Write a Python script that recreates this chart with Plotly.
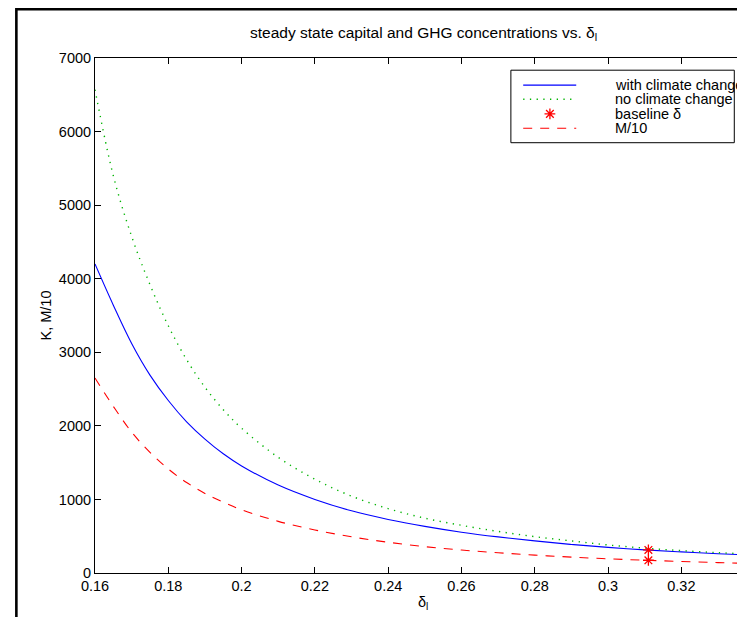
import plotly.graph_objects as go

# ---- data ----
delta = [0.16, 0.165, 0.17, 0.175, 0.18, 0.185, 0.19, 0.195, 0.20, 0.21, 0.22, 0.23,
         0.24, 0.25, 0.26, 0.27, 0.28, 0.29, 0.30, 0.31, 0.32, 0.33, 0.3386]
k_climate = [4200, 3640, 3120, 2690, 2345, 2055, 1820, 1620, 1455, 1195, 1000, 845,
             728, 634, 555, 491, 436, 388, 348, 315, 287, 262, 243]
k_noclimate = [6570, 5400, 4575, 3920, 3360, 2900, 2525, 2220, 1968, 1572, 1275, 1045,
               875, 745, 648, 565, 494, 436, 381, 338, 304, 276, 259]
m_over10 = [2650, 2265, 1915, 1640, 1413, 1230, 1082, 963, 860, 702, 585, 492,
            418, 358, 312, 275, 243, 216, 193, 174, 157, 141, 130]
baseline_delta = [0.311, 0.311]
baseline_vals = [313, 173]

series_names = ["with climate change", "no climate change", "baseline δ", "M/10"]
x_ticks = [0.16, 0.18, 0.20, 0.22, 0.24, 0.26, 0.28, 0.30, 0.32]
x_ticktext = ["0.16", "0.18", "0.2", "0.22", "0.24", "0.26", "0.28", "0.3", "0.32"]
y_ticks = [0, 1000, 2000, 3000, 4000, 5000, 6000, 7000]
x_range = [0.16, 0.339]
y_range = [0, 7000]

# ---- styling / layout (pixels of the 745x617 page) ----
FONT = "Liberation Sans, Arial, Helvetica, sans-serif"
FS = 14.5
W, H = 745, 617
L, R, T, B = 87, 742.7, 49.5, 565   # plot-area edges in pixels
PW, PH = R - L, B - T


def px(xp):
    return (xp - L) / PW


def py(yp):
    return (B - yp) / PH


BLUE = "#0000ff"
GREEN = "#00b400"
RED = "#ff0000"
blue_line = dict(color=BLUE, width=1.1)
green_line = dict(color=GREEN, width=1.4, dash="1.3px,5.4px")
red_line = dict(color=RED, width=1.1, dash="9px,8px")
star = dict(symbol="asterisk-open", color=RED, size=9, line=dict(color=RED, width=1.3))

fig = go.Figure()
fig.add_trace(go.Scatter(x=delta, y=k_climate, mode="lines", name=series_names[0],
                         line=dict(**blue_line, shape="spline")))
fig.add_trace(go.Scatter(x=delta, y=k_noclimate, mode="lines", name=series_names[1],
                         line=dict(**green_line, shape="spline")))
fig.add_trace(go.Scatter(x=baseline_delta, y=baseline_vals, mode="markers", name=series_names[2],
                         marker=star, cliponaxis=False))
fig.add_trace(go.Scatter(x=delta, y=m_over10, mode="lines", name=series_names[3],
                         line=dict(**red_line, shape="spline")))

# legend key for the star (on a hidden overlay axis spanning the plot area)
leg_rows = [76.7, 90.8, 105.4, 119.8]
fig.add_trace(go.Scatter(x=[px(541.7)], y=[py(leg_rows[2])], xaxis="x2", yaxis="y2",
                         mode="markers", showlegend=False, hoverinfo="skip", cliponaxis=False,
                         marker=star))

axis_common = dict(showline=True, linecolor="black", linewidth=1, mirror="ticks",
                   ticks="inside", ticklen=6, tickcolor="black", showgrid=False,
                   zeroline=False, tickfont=dict(family=FONT, size=FS, color="black"))

fig.update_xaxes(range=x_range, tickvals=x_ticks, ticktext=x_ticktext, **axis_common)
fig.update_yaxes(range=y_range, tickvals=y_ticks, **axis_common)

shapes = [
    # figure frame
    dict(type="rect", xref="paper", yref="paper",
         x0=px(8.4), x1=px(760), y0=py(615.8), y1=py(0.6),
         line=dict(color="black", width=2.6), fillcolor="rgba(0,0,0,0)", layer="above"),
    # legend box
    dict(type="rect", xref="paper", yref="paper",
         x0=px(502.7), x1=px(726), y0=py(134.3), y1=py(61.7),
         line=dict(color="black", width=1), fillcolor="white", layer="below"),
]
leg_line_styles = [blue_line, green_line, None, red_line]
for row, st in zip(leg_rows, leg_line_styles):
    if st is None:
        continue
    shapes.append(dict(type="line", xref="paper", yref="paper",
                       x0=px(515), x1=px(568), y0=py(row), y1=py(row), line=st, layer="above"))

annotations = [
    dict(text="δ<sub>l</sub>", xref="paper", yref="paper", x=0.5, y=py(595),
         xanchor="center", yanchor="middle", showarrow=False,
         font=dict(family=FONT, size=FS, color="black")),
    dict(text="K, M/10", xref="paper", yref="paper", x=px(38), y=0.5, textangle=-90,
         xanchor="center", yanchor="middle", showarrow=False,
         font=dict(family=FONT, size=FS, color="black")),
    dict(text="steady state capital and GHG concentrations vs. δ<sub>l</sub>",
         xref="paper", yref="paper", x=0.5, y=py(25), xanchor="center", yanchor="middle",
         showarrow=False, font=dict(family=FONT, size=15.5, color="black")),
]
for row, name in zip(leg_rows, series_names):
    annotations.append(dict(text=name, xref="paper", yref="paper", x=px(605), y=py(row),
                            xanchor="left", yanchor="middle", showarrow=False,
                            font=dict(family=FONT, size=FS, color="black")))

fig.update_layout(
    width=W, height=H,
    margin=dict(l=L, r=W - R, t=T, b=H - B, autoexpand=False),
    paper_bgcolor="white", plot_bgcolor="white",
    font=dict(family=FONT, size=FS, color="black"),
    showlegend=False,
    xaxis2=dict(overlaying="x", range=[0, 1], visible=False, fixedrange=True),
    yaxis2=dict(overlaying="y", range=[0, 1], visible=False, fixedrange=True),
    shapes=shapes,
    annotations=annotations,
)

fig.write_html("out.html")
